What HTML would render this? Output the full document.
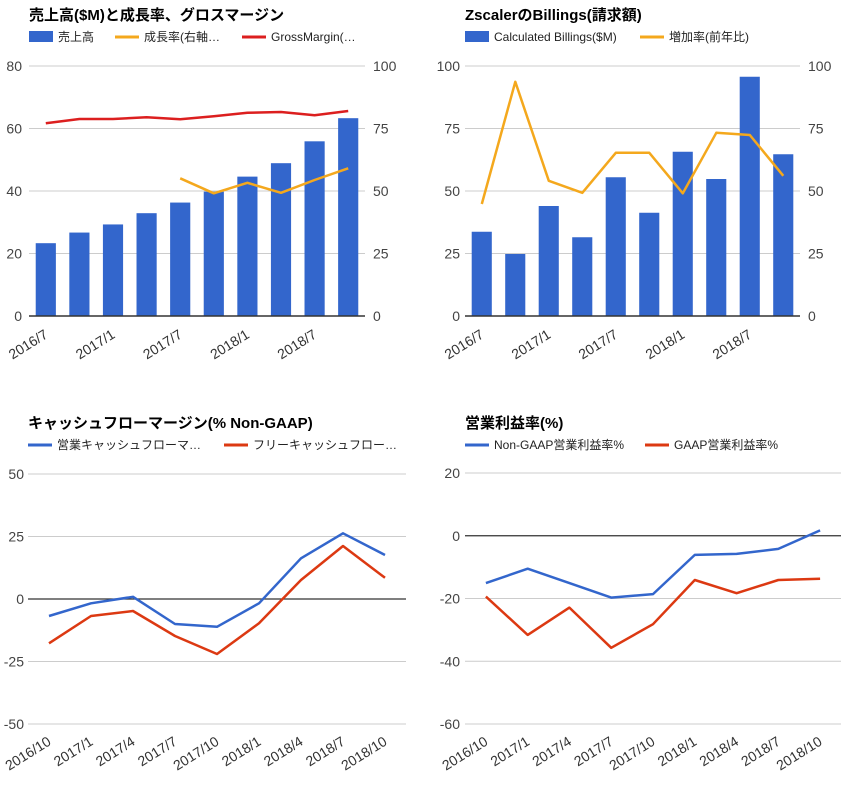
<!DOCTYPE html>
<html><head><meta charset="utf-8">
<style>
body{margin:0;background:#fff;width:844px;height:782px;overflow:hidden;font-family:"Liberation Sans","Noto Sans CJK JP",sans-serif;}
svg text{font-family:"Liberation Sans","Noto Sans CJK JP",sans-serif;}
</style></head>
<body>
<svg id="c" width="844" height="782" viewBox="0 0 844 782" xmlns="http://www.w3.org/2000/svg"></svg>
<script>
// Chart 1 data
const c1Cats = ["2016/7","2016/10","2017/1","2017/4","2017/7","2017/10","2018/1","2018/4","2018/7","2018/10"];
const c1Revenue = [23.3,26.7,29.3,32.9,36.3,39.8,44.6,48.9,55.9,63.3];
const c1Growth = [null,null,null,null,55.1,49.1,53.3,49.3,54.4,59.1];
const c1Margin = [77.1,78.8,78.8,79.5,78.7,79.9,81.3,81.6,80.3,82.0];
const c1LeftTicks = [0,20,40,60,80];
const c1RightTicks = [0,25,50,75,100];
// Chart 2 data
const c2Billings = [33.7,24.8,44,31.5,55.5,41.3,65.7,54.8,95.7,64.7];
const c2Growth = [44.8,93.7,54.1,49.3,65.3,65.3,49.1,73.3,72.4,56.1];
const c2Ticks = [0,25,50,75,100];
// Chart 3 data
const c3Cats = ["2016/10","2017/1","2017/4","2017/7","2017/10","2018/1","2018/4","2018/7","2018/10"];
const c3Operating = [-6.8,-1.7,0.9,-10,-11.1,-1.7,16.3,26.3,17.6];
const c3Free = [-17.7,-6.8,-4.8,-14.8,-22,-9.7,7.6,21.2,8.5];
const c3Ticks = [-50,-25,0,25,50];
// Chart 4 data
const c4NonGaap = [-15.1,-10.5,-15.1,-19.7,-18.6,-6.1,-5.8,-4.2,1.7];
const c4Gaap = [-19.4,-31.6,-22.9,-35.7,-28.2,-14.1,-18.3,-14.1,-13.7];
const c4Ticks = [-60,-40,-20,0,20];

const NS="http://www.w3.org/2000/svg";
const svg=document.getElementById('c');
function mk(tag,attrs,parent,txt){const e=document.createElementNS(NS,tag);for(const k in attrs)e.setAttribute(k,attrs[k]);if(txt!==undefined)e.textContent=txt;(parent||svg).appendChild(e);return e;}

function chart(o){
  const g=mk('g',{});
  
  
  const t=mk('text',{x:o.x0,y:o.titleY,'font-size':15,'font-weight':'bold',fill:'#000'},g,o.title);
  
  
  let lx=o.x0;
  o.legend.forEach(L=>{
    const lg=mk('g',{},g);
    
    
    if(L.bar) mk('rect',{x:lx,y:o.legY-6,width:24,height:11,fill:L.color},lg);
    else mk('rect',{x:lx,y:o.legY-1.5,width:24,height:3,fill:L.color},lg);
    mk('text',{x:lx+29,y:o.legY+4,'font-size':12,fill:'#222'},lg,L.label);
    lx+=L.w;
  });
  const yl=v=>o.yB-(v-o.lmin)/(o.lmax-o.lmin)*(o.yB-o.yT);
  const yr=v=>o.yB-(v-o.rmin)/(o.rmax-o.rmin)*(o.yB-o.yT);
  const n=o.cats.length, band=(o.x1-o.x0)/n;
  const xc=i=>o.x0+band*(i+0.5);
  o.lticks.forEach(v=>{
    const gl=mk('line',{x1:o.x0,x2:o.x1,y1:yl(v),y2:yl(v),stroke:v===o.zero?'#333':'#ccc','stroke-width':v===o.zero?1.2:1},g);
    
    
    const tl=mk('text',{x:o.lLabX,y:yl(v)+5,'font-size':14,fill:'#444','text-anchor':'end'},g,String(v));
    
    
  });
  if(o.rticks) o.rticks.forEach(v=>{
    const tr=mk('text',{x:o.x1+8,y:yr(v)+5,'font-size':14,fill:'#444'},g,String(v));
    
    
  });
  if(o.bars){
    const bw=band*0.6;
    o.bars.forEach((v,i)=>{
      const b=mk('rect',{x:xc(i)-bw/2,y:yl(v),width:bw,height:yl(o.lmin)-yl(v),fill:'#3366cc'},g);
      
      
    });
    mk('line',{x1:o.x0,x2:o.x1,y1:o.yB,y2:o.yB,stroke:'#333','stroke-width':1.5},g);
  }
  o.lines.forEach(L=>{
    const f=L.right?yr:yl;
    let d='';
    L.data.forEach((v,i)=>{if(v===null)return;d+=(d?'L':'M')+xc(i).toFixed(1)+','+f(v).toFixed(1);});
    const p=mk('path',{d:d,fill:'none',stroke:L.color,'stroke-width':2.5,'stroke-linejoin':'round'},g);
    
    
  });
  o.cats.forEach((c,i)=>{
    if(i%o.labStep) return;
    const x=xc(i)+3,y=o.labY;
    const tx=mk('text',{x:x,y:y,'font-size':14,fill:'#333','text-anchor':'end',transform:`rotate(-32 ${x} ${y})`},g,c);
    
    
  });
}

chart({name:'revenue-chart',title:'売上高($M)と成長率、グロスマージン',titleY:20,legY:37,x0:29,x1:365,yT:66,yB:316,
  lmin:0,lmax:80,rmin:0,rmax:100,lticks:c1LeftTicks,rticks:c1RightTicks,lLabX:22,zero:null,
  cats:c1Cats,bars:c1Revenue,labStep:2,labY:337,
  legend:[{bar:true,color:'#3366cc',label:'売上高',w:86},{color:'#f4a81d',label:'成長率(右軸…',w:127},{color:'#dc1f1f',label:'GrossMargin(…',w:120}],
  lines:[{data:c1Growth,color:'#f4a81d',right:true,name:'growth-line'},{data:c1Margin,color:'#dc1f1f',right:true,name:'gross-margin-line'}]});

chart({name:'billings-chart',title:'ZscalerのBillings(請求額)',titleY:20,legY:37,x0:465,x1:800,yT:66,yB:316,
  lmin:0,lmax:100,rmin:0,rmax:100,lticks:c2Ticks,rticks:c2Ticks,lLabX:460,zero:null,
  cats:c1Cats,bars:c2Billings,labStep:2,labY:337,
  legend:[{bar:true,color:'#3366cc',label:'Calculated Billings($M)',w:175},{color:'#f4a81d',label:'増加率(前年比)',w:120}],
  lines:[{data:c2Growth,color:'#f4a81d',right:true,name:'billings-growth-line'}]});

chart({name:'cashflow-chart',title:'キャッシュフローマージン(% Non-GAAP)',titleY:428,legY:445,x0:28,x1:406,yT:474,yB:724,
  lmin:-50,lmax:50,lticks:c3Ticks,lLabX:24,zero:0,
  cats:c3Cats,labStep:1,labY:744,
  legend:[{color:'#3366cc',label:'営業キャッシュフローマ…',w:196},{color:'#dc3912',label:'フリーキャッシュフロー…',w:180}],
  lines:[{data:c3Operating,color:'#3366cc',name:'operating-cf-line'},{data:c3Free,color:'#dc3912',name:'free-cf-line'}]});

chart({name:'operating-margin-chart',title:'営業利益率(%)',titleY:428,legY:445,x0:465,x1:841,yT:473,yB:724,
  lmin:-60,lmax:20,lticks:c4Ticks,lLabX:460,zero:0,
  cats:c3Cats,labStep:1,labY:744,
  legend:[{color:'#3366cc',label:'Non-GAAP営業利益率%',w:180},{color:'#dc3912',label:'GAAP営業利益率%',w:150}],
  lines:[{data:c4NonGaap,color:'#3366cc',name:'non-gaap-line'},{data:c4Gaap,color:'#dc3912',name:'gaap-line'}]});
</script>
</body></html>
